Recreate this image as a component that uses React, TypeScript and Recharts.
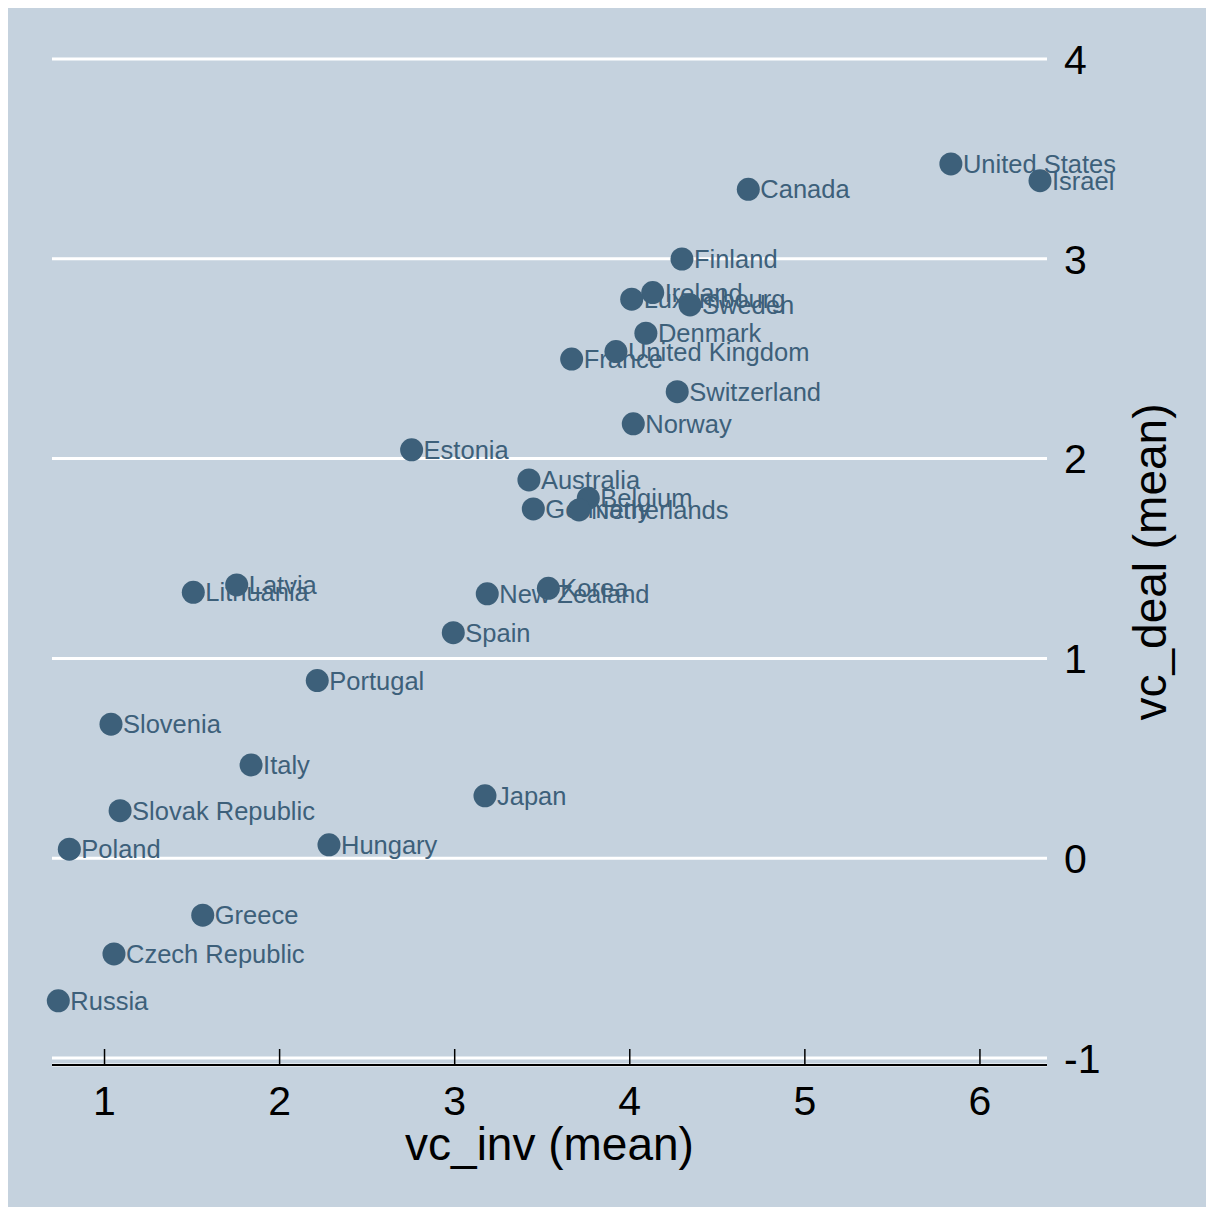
import React from "react";
import {
  ScatterChart,
  Scatter,
  XAxis,
  YAxis,
  CartesianGrid,
} from "recharts";

const countries = [
  "Australia", "Belgium", "Canada", "Czech Republic", "Denmark", "Estonia",
  "Finland", "France", "Germany", "Greece", "Hungary", "Ireland", "Israel",
  "Italy", "Japan", "Korea", "Latvia", "Lithuania", "Luxembourg", "Netherlands",
  "New Zealand", "Norway", "Poland", "Portugal", "Russia", "Slovak Republic",
  "Slovenia", "Spain", "Sweden", "Switzerland", "United Kingdom", "United States",
];

// vc_inv (mean)
const vcInv = [
  3.424, 3.763, 4.677, 1.054, 4.092, 2.754,
  4.298, 3.668, 3.449, 1.561, 2.282, 4.131, 6.343,
  1.837, 3.173, 3.535, 1.755, 1.507, 4.011, 3.710,
  3.186, 4.020, 0.799, 2.215, 0.736, 1.089,
  1.037, 2.992, 4.344, 4.271, 3.921, 5.834,
];

// vc_deal (mean)
const vcDeal = [
  1.893, 1.802, 3.348, -0.479, 2.628, 2.044,
  2.999, 2.498, 1.748, -0.285, 0.067, 2.831, 3.391,
  0.467, 0.312, 1.351, 1.368, 1.331, 2.798, 1.743,
  1.323, 2.174, 0.045, 0.889, -0.714, 0.238,
  0.671, 1.129, 2.769, 2.335, 2.536, 3.475,
];

const xTicks = [1, 2, 3, 4, 5, 6];
const yTicks = [-1, 0, 1, 2, 3, 4];

const points = countries.map((name, i) => ({ name, x: vcInv[i], y: vcDeal[i] }));

const BG = "#c5d2de";
const MARK = "#3d607a";
const FONT = "'Liberation Sans', Arial, Helvetica, sans-serif";

const XTick = (props: any) => {
  const { x, y, payload } = props;
  return (
    <g>
      <line x1={x} x2={x} y1={y} y2={y - 16} stroke="#000" strokeWidth={1.5} />
      <text x={x} y={y + 50} textAnchor="middle" fontSize={41} fill="#000" fontFamily={FONT}>
        {payload.value}
      </text>
    </g>
  );
};

const YTick = (props: any) => {
  const { x, y, payload } = props;
  return (
    <text x={x + 17} y={y} dy="0.36em" textAnchor="start" fontSize={41} fill="#000" fontFamily={FONT}>
      {payload.value}
    </text>
  );
};

const Point = (props: any) => {
  const { cx, cy, payload } = props;
  return (
    <g>
      <circle cx={cx} cy={cy} r={11.5} fill={MARK} />
      <text x={cx + 12} y={cy} dy="0.36em" fontSize={25.5} fill={MARK} fontFamily={FONT}>
        {payload.name}
      </text>
    </g>
  );
};

export default function App() {
  return (
    <div style={{ width: 1198, height: 1199, background: BG }}>
      <ScatterChart
        width={1198}
        height={1199}
        margin={{ top: 51, right: 39, bottom: 42, left: 44 }}
        style={{ overflow: "visible" }}
      >
        <CartesianGrid horizontal vertical={false} stroke="#ffffff" strokeWidth={3} />
        <XAxis
          type="number"
          dataKey="x"
          domain={[0.7, 6.383]}
          ticks={xTicks}
          height={100}
          axisLine={{ stroke: "#000", strokeWidth: 2 }}
          tickLine={false}
          tickSize={0}
          tickMargin={0}
          tick={<XTick />}
          label={({ viewBox }: any) => (
            <text
              x={viewBox.x + viewBox.width / 2}
              y={viewBox.y + 95}
              textAnchor="middle"
              fontSize={46}
              fill="#000"
              fontFamily={FONT}
            >
              vc_inv (mean)
            </text>
          )}
        />
        <YAxis
          type="number"
          dataKey="y"
          orientation="right"
          domain={[-1.035, 4]}
          ticks={yTicks}
          width={120}
          axisLine={false}
          tickLine={false}
          tickSize={0}
          tickMargin={0}
          tick={<YTick />}
          label={({ viewBox }: any) => {
            const tx = viewBox.x + 119;
            const ty = viewBox.y + viewBox.height / 2;
            return (
              <text
                x={tx}
                y={ty}
                transform={`rotate(-90, ${tx}, ${ty})`}
                textAnchor="middle"
                fontSize={46}
                fill="#000"
                fontFamily={FONT}
              >
                vc_deal (mean)
              </text>
            );
          }}
        />
        <Scatter data={points} isAnimationActive={false} shape={<Point />} />
      </ScatterChart>
    </div>
  );
}
